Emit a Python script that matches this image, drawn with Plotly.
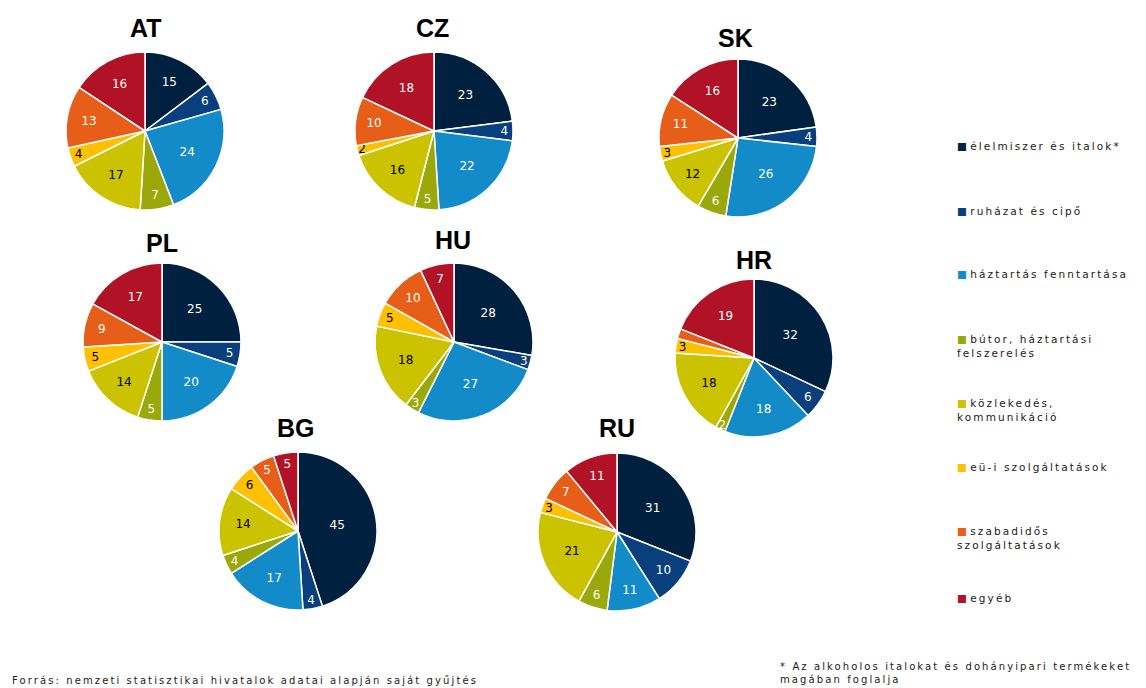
import plotly.graph_objects as go

W, H = 1146, 688

categories = ["élelmiszer és italok*", "ruházat és cipő", "háztartás fenntartása",
              "bútor, háztartási felszerelés", "közlekedés, kommunikáció",
              "eü-i szolgáltatások", "szabadidős szolgáltatások", "egyéb"]
legend_labels = ["élelmiszer és italok*", "ruházat és cipő", "háztartás fenntartása",
                 "bútor, háztartási<br>felszerelés", "közlekedés,<br>kommunikáció",
                 "eü-i szolgáltatások", "szabadidős<br>szolgáltatások", "egyéb"]
colors = ["#00203F", "#0A3F7E", "#138BC9", "#9AA80A", "#CBC200",
          "#FFC000", "#E65E17", "#B11226"]
text_colors = ["white", "white", "white", "white", "black", "black", "white", "white"]

countries = ["AT", "CZ", "SK", "PL", "HU", "HR", "BG", "RU"]
AT = [15, 6, 24, 7, 17, 4, 13, 16]
CZ = [23, 4, 22, 5, 16, 2, 10, 18]
SK = [23, 4, 26, 6, 12, 3, 11, 16]
PL = [25, 5, 20, 5, 14, 5, 9, 17]
HU = [28, 3, 27, 3, 18, 5, 10, 7]
HR = [32, 6, 18, 2, 18, 3, 2, 19]
BG = [45, 4, 17, 4, 14, 6, 5, 5]
RU = [31, 10, 11, 6, 21, 3, 7, 11]
values = [AT, CZ, SK, PL, HU, HR, BG, RU]

# labels hidden in the reference (covered by neighbouring label)
hidden_labels = {("HR", 6)}

# layout (pixel centres of pies and titles)
centers = [(145, 131), (434, 131), (738, 138), (162, 342), (454, 342),
           (754, 358), (298, 531), (617, 532)]
title_pos = [(145, 28), (432, 28), (735, 38), (162, 243), (453, 240),
             (754, 260), (296, 428), (617, 428)]
D = 158

fig = go.Figure()
for name, vals, (cx, cy) in zip(countries, values, centers):
    tpos = ["none" if (name, i) in hidden_labels else "inside" for i in range(len(vals))]
    fig.add_trace(go.Pie(
        labels=categories, values=vals, name=name,
        sort=False, direction="clockwise", rotation=0,
        marker=dict(colors=colors, line=dict(color="white", width=1.5)),
        textinfo="value", textposition=tpos,
        insidetextorientation="horizontal",
        textfont=dict(family="DejaVu Sans", size=12, color=text_colors),
        showlegend=False, hoverinfo="label+value",
        domain=dict(x=[(cx - D / 2) / W, (cx + D / 2) / W],
                    y=[1 - (cy + D / 2) / H, 1 - (cy - D / 2) / H]),
    ))

annotations = []
for name, (tx, ty) in zip(countries, title_pos):
    annotations.append(dict(
        x=tx / W, y=1 - ty / H, xref="paper", yref="paper",
        text=f"<b>{name}</b>", showarrow=False,
        font=dict(family="Liberation Sans, Arial", size=25, color="black"),
        xanchor="center", yanchor="middle"))

SP = "letter-spacing:2.1px"
legend_y = [145, 210, 273, 338, 402, 466, 530, 597]
for lab, col, ly in zip(legend_labels, colors, legend_y):
    lab_s = "<br>".join(f'<span style="{SP}">{part}</span>' for part in lab.split("<br>"))
    annotations.append(dict(
        x=955 / W, y=1 - (ly - 7) / H, xref="paper", yref="paper",
        text=f'<span style="color:{col}">■</span> {lab_s}', showarrow=False,
        font=dict(family="DejaVu Sans", size=10.5, color="#1a1a1a"),
        xanchor="left", yanchor="top", align="left"))

annotations.append(dict(
    x=10 / W, y=1 - 680 / H, xref="paper", yref="paper",
    text=f'<span style="{SP}">Forrás: nemzeti statisztikai hivatalok adatai alapján saját gyűjtés</span>',
    showarrow=False, font=dict(family="DejaVu Sans", size=10, color="#1a1a1a"),
    xanchor="left", yanchor="middle"))
annotations.append(dict(
    x=778 / W, y=1 - 659 / H, xref="paper", yref="paper",
    text=(f'<span style="{SP}">* Az alkoholos italokat és dohányipari termékeket</span><br>'
          f'<span style="{SP}">magában foglalja</span>'),
    showarrow=False, font=dict(family="DejaVu Sans", size=10, color="#1a1a1a"),
    xanchor="left", yanchor="top", align="left"))

fig.update_layout(
    width=W, height=H, margin=dict(l=0, r=0, t=0, b=0),
    paper_bgcolor="white", plot_bgcolor="white",
    annotations=annotations,
    uniformtext=dict(minsize=11, mode="show"),
)

fig.write_html("out.html", config={"displayModeBar": False},
               post_script="document.body.style.margin='0';")
